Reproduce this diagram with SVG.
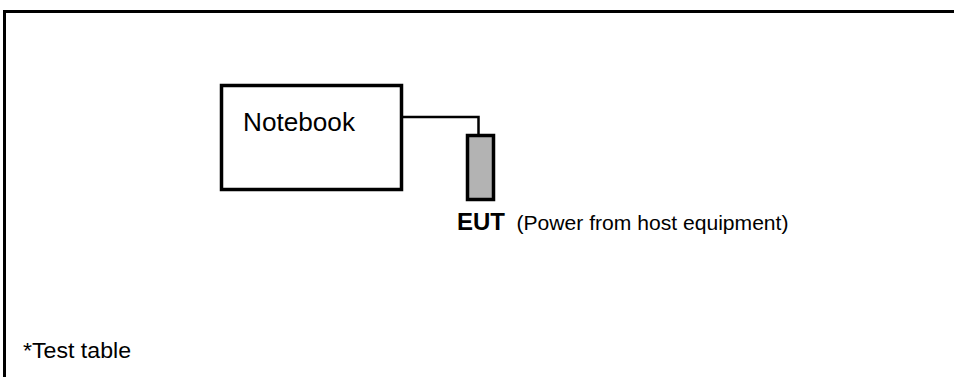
<svg xmlns="http://www.w3.org/2000/svg" width="954" height="377" viewBox="0 0 954 377">
<style>
.frame{fill:none;stroke:#000;stroke-width:3}
.box{fill:#fff;stroke:#000;stroke-width:3.5}
.eut{fill:#b3b3b3;stroke:#000;stroke-width:3.5}
.wire{fill:none;stroke:#000;stroke-width:2.5}
.t{font-family:"Liberation Sans",Arial,sans-serif;fill:#000}
</style>
<rect width="954" height="377" fill="#fff"/>
<g id="frame">
<path class="frame" d="M4.5,377 V11.5 H954"/>
<text class="t" x="23" y="358" font-size="22" textLength="108" lengthAdjust="spacingAndGlyphs">*Test table</text>
</g>
<g id="connectors">
<path class="wire" d="M402,117 H478.5 V135"/>
</g>
<g id="notebook">
<rect class="box" x="221.5" y="85.5" width="180" height="104"/>
<text class="t" x="243" y="131" font-size="26.5" textLength="112" lengthAdjust="spacingAndGlyphs">Notebook</text>
</g>
<g id="eut">
<rect class="eut" x="467.5" y="135.5" width="26" height="64"/>
<text class="t" x="457" y="229.5" font-size="23" font-weight="bold" textLength="48" lengthAdjust="spacingAndGlyphs">EUT</text>
<text class="t" x="516.5" y="229.5" font-size="20" textLength="272" lengthAdjust="spacingAndGlyphs">(Power from host equipment)</text>
</g>
</svg>
